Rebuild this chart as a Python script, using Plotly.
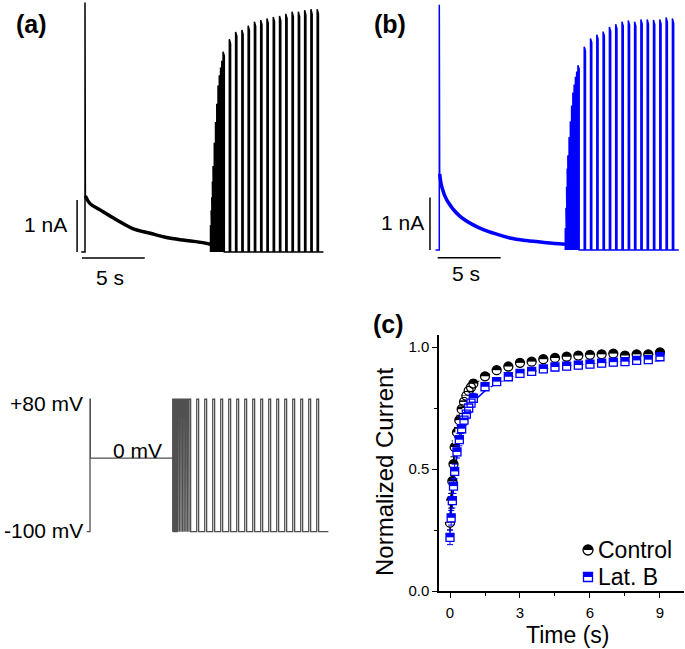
import plotly.graph_objects as go

# reference canvas (pixels) that every position below is measured in
REF_W, REF_H = 685, 649
W, H = REF_W, REF_H

# ---------------- data ----------------
# recovery interval between conditioning end and each test pulse (s)
recovery_times = [0, 0.05, 0.1, 0.15, 0.2, 0.3, 0.4, 0.5, 0.6, 0.7, 0.8, 0.9, 1.0,
                  1.5, 2.0, 2.5, 3.0, 3.5, 4.0, 4.5, 5.0, 5.5, 6.0, 6.5, 7.0, 7.5, 8.0, 8.5, 9.0]

# panel (c): normalized current
control_norm = [0.28, 0.37, 0.45, 0.52, 0.59, 0.65, 0.70, 0.745, 0.775, 0.80, 0.82, 0.835, 0.85,
                0.88, 0.905, 0.92, 0.935, 0.94, 0.95, 0.955, 0.96, 0.965, 0.968, 0.97, 0.973,
                0.965, 0.97, 0.97, 0.978]
control_err = [0.03, 0.03, 0.03, 0.03, 0.025, 0.02, 0.02, 0.02, 0.02, 0.015, 0.015, 0.015, 0.015,
               0.012, 0.012, 0.01, 0.01, 0.01, 0.01, 0.01, 0.01, 0.01, 0.01, 0.01, 0.01,
               0.01, 0.01, 0.01, 0.01]
latb_norm = [0.22, 0.30, 0.37, 0.43, 0.49, 0.57, 0.62, 0.665, 0.70, 0.725, 0.75, 0.77, 0.79,
             0.837, 0.858, 0.878, 0.892, 0.90, 0.91, 0.918, 0.922, 0.926, 0.93, 0.934, 0.938,
             0.94, 0.945, 0.948, 0.96]
latb_err = [0.03, 0.03, 0.03, 0.03, 0.03, 0.025, 0.025, 0.02, 0.02, 0.02, 0.02, 0.02, 0.02,
            0.015, 0.015, 0.015, 0.015, 0.015, 0.015, 0.015, 0.015, 0.015, 0.015, 0.015, 0.015,
            0.015, 0.015, 0.015, 0.015]

# fitted curves
fit_times = [0, 0.1, 0.2, 0.4, 0.7, 1.0, 1.5, 2.0, 3.0, 4.0, 5.0, 6.0, 7.0, 8.0, 9.0]
control_fit = [0.30, 0.46, 0.57, 0.70, 0.79, 0.84, 0.88, 0.90, 0.925, 0.94, 0.95, 0.957, 0.962, 0.965, 0.967]
latb_fit = [0.24, 0.38, 0.48, 0.61, 0.71, 0.77, 0.82, 0.85, 0.885, 0.905, 0.918, 0.928, 0.935, 0.94, 0.945]

# panel (a) control current trace (s, nA)
ctrl_first_peak = 4.8
ctrl_decay_t = [0.03, 0.4, 1.2, 2.5, 3.8, 5.2, 6.5, 7.8, 9.1, 10.0]
ctrl_decay_i = [1.08, 0.93, 0.81, 0.62, 0.45, 0.36, 0.28, 0.23, 0.19, 0.15]
ctrl_train_peaks = [0.5, 0.8, 1.05, 1.35, 1.65, 2.1, 2.5, 2.85, 3.2, 3.4, 3.55, 3.68, 3.85,
                    4.09, 4.23, 4.27, 4.35, 4.43, 4.46, 4.49, 4.52, 4.54, 4.58, 4.62, 4.62,
                    4.65, 4.67, 4.67]

# panel (b) Lat. B current trace (s, nA)
latb_first_peak = 4.67
latb_decay_t = [0.03, 0.2, 0.6, 1.6, 3.0, 4.3, 5.6, 6.9, 8.5, 10.0]
latb_decay_i = [1.45, 1.2, 0.95, 0.65, 0.44, 0.32, 0.23, 0.18, 0.14, 0.11]
latb_train_peaks = [0.4, 0.8, 1.2, 1.55, 1.8, 2.15, 2.45, 2.75, 3.0, 3.15, 3.3, 3.4, 3.52,
                    3.87, 4.03, 4.10, 4.16, 4.25, 4.30, 4.35, 4.37, 4.35, 4.39, 4.39, 4.38,
                    4.39, 4.43, 4.41]

train_start = 10.0     # s, start of the test-pulse train in the traces
train_length = 9.0     # s
pulse_width = 0.1      # s

# voltage protocol (schematic)
holding_mv = -100
prepulse_mv = 80
conditioning_mv = 0
test_mv = 80
proto_cond_len = 5.17
proto_train_len = 9.73
proto_pulse_width = 0.12

legend_labels = ["Control", "Lat. B"]

BLUE = "#0000ff"

# ---------------- helpers ----------------
def px(x):
    return x / REF_W

def py(y):
    return 1 - y / REF_H

def xdom(p0, p1):
    return [max(0.0, px(p0)), min(1.0, px(p1))]

def ydom(top, bottom):
    return [max(0.0, py(bottom)), min(1.0, py(top))]


def build_current(first_peak, decay_t, decay_i, peaks):
    xs = [-0.3, 0, 0]
    ys = [0, 0, first_peak]
    xs += list(decay_t)
    ys += list(decay_i)
    xs.append(train_start)
    ys.append(0)
    for rt, pk in zip(recovery_times, peaks):
        t = train_start + rt
        xs += [t, t, t + pulse_width, t + pulse_width]
        ys += [0, pk, pk * 0.98, 0]
    xs.append(train_start + train_length)
    ys.append(0)
    return xs, ys


def build_protocol():
    xs = [-0.2, 0, 0, 0.02, 0.02, proto_cond_len, proto_cond_len]
    ys = [holding_mv, holding_mv, prepulse_mv, prepulse_mv, conditioning_mv, conditioning_mv, holding_mv]
    for rt in recovery_times:
        t = proto_cond_len + rt
        xs += [t, t, t + proto_pulse_width, t + proto_pulse_width]
        ys += [holding_mv, test_mv, test_mv, holding_mv]
    xs.append(proto_cond_len + proto_train_len)
    ys.append(holding_mv)
    return xs, ys


# pixel geometry of each panel (reference image pixels)
a_x0, a_sx, a_y0, a_sy = 85, 12.55, 252, 52        # panel (a)
b_x0, b_sx, b_y0, b_sy = 439.3, 12.6, 250, 52.5    # panel (b)
p_x0, p_sx, p_y0, p_sy = 90, 16, 458.1, 0.7356     # protocol
c_x0, c_sx, c_y0, c_sy = 450, 23.33, 591, 244      # panel (c)


def rng_x(p0, p1, x0, sx):
    return [(p0 - x0) / sx, (p1 - x0) / sx]


def rng_y(top, bottom, y0, sy):
    return [(y0 - bottom) / sy, (y0 - top) / sy]


fig = go.Figure()

# ---------- panel (a) ----------
ax, ay = build_current(ctrl_first_peak, ctrl_decay_t, ctrl_decay_i, ctrl_train_peaks)
fig.add_trace(go.Scatter(x=ax, y=ay, mode="lines", line=dict(color="black", width=1.5),
                         showlegend=False, xaxis="x", yaxis="y", hoverinfo="skip"))
fig.add_trace(go.Scatter(x=ctrl_decay_t, y=ctrl_decay_i, mode="lines",
                         line=dict(color="black", width=3.5, shape="spline"),
                         showlegend=False, xaxis="x", yaxis="y", hoverinfo="skip"))

# ---------- panel (b) ----------
bx, by = build_current(latb_first_peak, latb_decay_t, latb_decay_i, latb_train_peaks)
fig.add_trace(go.Scatter(x=bx, y=by, mode="lines", line=dict(color=BLUE, width=1.5),
                         showlegend=False, xaxis="x2", yaxis="y2", hoverinfo="skip"))
fig.add_trace(go.Scatter(x=latb_decay_t, y=latb_decay_i, mode="lines",
                         line=dict(color=BLUE, width=3.5, shape="spline"),
                         showlegend=False, xaxis="x2", yaxis="y2", hoverinfo="skip"))

# ---------- protocol ----------
vx, vy = build_protocol()
fig.add_trace(go.Scatter(x=vx, y=vy, mode="lines", line=dict(color="#505050", width=1.3),
                         showlegend=False, xaxis="x3", yaxis="y3", hoverinfo="skip"))

# ---------- panel (c) ----------
fig.add_trace(go.Scatter(x=fit_times, y=control_fit, mode="lines",
                         line=dict(color="black", width=1.5, shape="spline"),
                         showlegend=False, xaxis="x4", yaxis="y4", hoverinfo="skip"))
fig.add_trace(go.Scatter(x=fit_times, y=latb_fit, mode="lines",
                         line=dict(color=BLUE, width=1.5, shape="spline"),
                         showlegend=False, xaxis="x4", yaxis="y4", hoverinfo="skip"))


def half_filled(xs, ys, err, color, symbol, size, xa, ya, unit_per_px, with_err=True):
    """Top-half-filled marker: filled symbol, white lower half, open outline."""
    half = size / 4.0 * unit_per_px
    ey = dict(type="data", array=err, color=color, thickness=1, width=3) if with_err else None
    fig.add_trace(go.Scatter(x=xs, y=ys, mode="markers", error_y=ey,
                             marker=dict(symbol=symbol, size=size, color=color, line=dict(color=color, width=0)),
                             showlegend=False, xaxis=xa, yaxis=ya, hoverinfo="skip"))
    fig.add_trace(go.Scatter(x=xs, y=[v - half for v in ys], mode="markers",
                             marker=dict(symbol="line-ew", size=size + 1,
                                         line=dict(color="white", width=size / 2.0)),
                             showlegend=False, xaxis=xa, yaxis=ya, hoverinfo="skip"))
    fig.add_trace(go.Scatter(x=xs, y=ys, mode="markers",
                             marker=dict(symbol=symbol + "-open", size=size, color=color,
                                         line=dict(color=color, width=1.3)),
                             showlegend=False, xaxis=xa, yaxis=ya, hoverinfo="skip"))


c_unit = 1.0 / c_sy
half_filled(recovery_times, control_norm, control_err, "black", "circle", 9, "x4", "y4", c_unit)
half_filled(recovery_times, latb_norm, latb_err, BLUE, "square", 8, "x4", "y4", c_unit)

# legend symbols on a full-figure pixel overlay
leg_x = 588
leg_y = [550, 577]
half_filled([leg_x], [leg_y[0]], None, "black", "circle", 10, "x5", "y5", -1.0, with_err=False)
half_filled([leg_x], [leg_y[1]], None, BLUE, "square", 9, "x5", "y5", -1.0, with_err=False)

hidden = dict(visible=False, fixedrange=True)
tick_font = dict(family="Liberation Sans Narrow, Arial Narrow, Liberation Sans", size=15, color="black")

layout = dict(
    width=W, height=H, margin=dict(l=0, r=0, t=0, b=0),
    paper_bgcolor="white", plot_bgcolor="rgba(0,0,0,0)",
    font=dict(family="Liberation Sans, Arial, sans-serif", color="black"),
    showlegend=False,
    xaxis=dict(domain=xdom(0, 340), range=rng_x(0, 340, a_x0, a_sx), anchor="y", **hidden),
    yaxis=dict(domain=ydom(0, 300), range=rng_y(0, 300, a_y0, a_sy), anchor="x", **hidden),
    xaxis2=dict(domain=xdom(345, 685), range=rng_x(345, 685, b_x0, b_sx), anchor="y2", **hidden),
    yaxis2=dict(domain=ydom(0, 300), range=rng_y(0, 300, b_y0, b_sy), anchor="x2", **hidden),
    xaxis3=dict(domain=xdom(0, 340), range=rng_x(0, 340, p_x0, p_sx), anchor="y3", **hidden),
    yaxis3=dict(domain=ydom(380, 545), range=rng_y(380, 545, p_y0, p_sy), anchor="x3", **hidden),
    xaxis4=dict(domain=xdom(439, 684), range=rng_x(439, 684, c_x0, c_sx), anchor="y4",
                showline=True, linecolor="black", linewidth=1.5, ticks="outside", ticklen=5,
                tickwidth=1.3, tickcolor="black", tickvals=[0, 3, 6, 9], ticktext=["0", "3", "6", "9"],
                minor=dict(tickvals=[1.5, 4.5, 7.5], ticks="outside", ticklen=3, tickcolor="black", tickwidth=1.2),
                ticklabelstandoff=2,
                tickfont=tick_font, showgrid=False, zeroline=False, fixedrange=True, automargin=False),
    yaxis4=dict(domain=ydom(335, 591), range=rng_y(335, 591, c_y0, c_sy), anchor="x4",
                showline=True, linecolor="black", linewidth=1.5, ticks="outside", ticklen=5,
                tickwidth=1.3, tickcolor="black", tickvals=[0, 0.5, 1.0], ticktext=["0.0", "0.5", "1.0"],
                minor=dict(tickvals=[0.25, 0.75], ticks="outside", ticklen=3, tickcolor="black", tickwidth=1.2),
                tickfont=tick_font, showgrid=False, zeroline=False, fixedrange=True, automargin=False),
    xaxis5=dict(domain=[0, 1], range=[0, REF_W], anchor="y5", **hidden),
    yaxis5=dict(domain=[0, 1], range=[REF_H, 0], anchor="x5", **hidden),
)
fig.update_layout(**layout)

# scale bars (drawn in data units of each trace panel)
shapes = [
    dict(type="line", xref="x", yref="y", x0=-0.63, x1=-0.63, y0=0, y1=1, line=dict(color="black", width=1.5)),
    dict(type="line", xref="x", yref="y", x0=-0.24, x1=4.76, y0=-0.115, y1=-0.115, line=dict(color="black", width=1.5)),
    dict(type="line", xref="x2", yref="y2", x0=-0.74, x1=-0.74, y0=0, y1=1, line=dict(color="black", width=1.5)),
    dict(type="line", xref="x2", yref="y2", x0=-0.13, x1=4.87, y0=-0.147, y1=-0.147, line=dict(color="black", width=1.5)),
]
fig.update_layout(shapes=shapes)


def ann(text, x, y, size, bold=False, xanchor="center", textangle=0):
    return dict(text=f"<b>{text}</b>" if bold else text, x=px(x), y=py(y), xref="paper", yref="paper",
                xanchor=xanchor, yanchor="middle", showarrow=False, textangle=textangle,
                font=dict(size=size, color="black", family="Liberation Sans, Arial, sans-serif"))


annotations = [
    ann("(a)", 31, 24, 25, bold=True),
    ann("(b)", 390, 24, 25, bold=True),
    ann("(c)", 388, 324, 25, bold=True),
    ann("1 nA", 45, 225, 21),
    ann("5 s", 110, 277, 21),
    ann("1 nA", 402, 222, 21),
    ann("5 s", 466, 274, 21),
    ann("+80 mV", 46, 403, 21),
    ann("0 mV", 137, 450, 21),
    ann("-100 mV", 43, 530, 21),
    ann("Normalized Current", 384, 472, 24, textangle=-90),
    ann("Time (s)", 567, 635, 23),
    ann(legend_labels[0], 596, 550, 23, xanchor="left"),
    ann(legend_labels[1], 596, 577, 23, xanchor="left"),
]
fig.update_layout(annotations=annotations)

fig.write_html("out.html", config={"displayModeBar": False},
               post_script="document.body.style.margin='0';document.body.style.overflow='hidden';")
